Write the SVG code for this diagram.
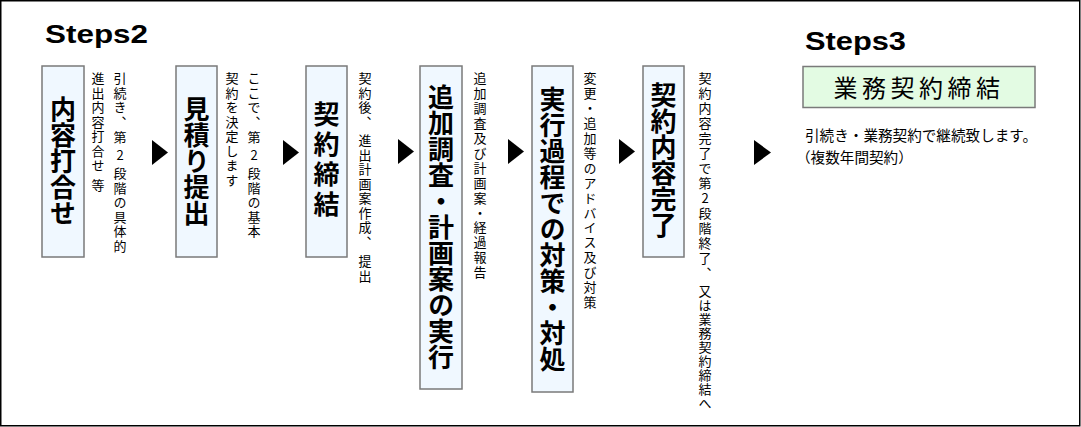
<svg xmlns="http://www.w3.org/2000/svg" width="1081" height="427" viewBox="0 0 1081 427">
<style>
.box{fill:#f0f8ff;stroke:#7a7a7a;stroke-width:1.5}
.gbox{fill:#e3fbe3;stroke:#7a7a7a;stroke-width:1.5}
.big{font-family:"Noto Sans CJK JP",sans-serif;font-size:26px;font-weight:bold;fill:#000;writing-mode:vertical-rl;text-orientation:upright}
.side{font-family:"Noto Sans CJK JP",sans-serif;font-size:13px;fill:#000;writing-mode:vertical-rl;text-orientation:upright;letter-spacing:1.5px}
.wide{letter-spacing:1.9px}
.step{font-family:"Liberation Sans",Arial,sans-serif;font-weight:bold;font-size:25px;fill:#000}
.desc{font-family:"Noto Sans CJK JP",sans-serif;font-size:14.6px;fill:#000}
.arr{fill:#000}
</style>
<rect x="0.75" y="0.75" width="1079" height="425" fill="#fff" stroke="#000" stroke-width="1.5"/>
<text class="step" x="45" y="43" textLength="103" lengthAdjust="spacingAndGlyphs">Steps2</text>
<text class="step" x="805" y="50" textLength="101" lengthAdjust="spacingAndGlyphs">Steps3</text>

<g id="n1">
<rect class="box" x="42" y="66" width="42" height="191"/>
<text class="big" x="63" y="161.5" text-anchor="middle">内容打合せ</text>
<text class="side" x="120" y="72">引続き、</text>
<text class="side" x="120" y="131">第</text>
<text class="side" x="120" y="149">2</text>
<text class="side" x="120" y="167">段階の具体的</text>
<text class="side" x="98" y="72">進出内容打合せ</text>
<text class="side" x="98" y="179">等</text>
</g>
<g id="n2">
<rect class="box" x="176" y="66" width="41" height="191"/>
<text class="big" x="196.5" y="161.5" text-anchor="middle">見積り提出</text>
<text class="side" x="254" y="72">ここで、</text>
<text class="side" x="254" y="131">第</text>
<text class="side" x="254" y="149">2</text>
<text class="side" x="254" y="167">段階の基本</text>
<text class="side" x="232" y="72">契約を決定します</text>
</g>
<g id="n3">
<rect class="box" x="306" y="66" width="41" height="191"/>
<text class="big" x="326.5" y="161.5" text-anchor="middle" style="letter-spacing:4px">契約締結</text>
<text class="side" x="365" y="72">契約後、</text>
<text class="side" x="365" y="134">進出計画案作成、</text>
<text class="side" x="365" y="255">提出</text>
</g>
<g id="n4">
<rect class="box" x="420" y="66" width="42" height="323"/>
<text class="big" x="441" y="227.5" text-anchor="middle">追加調査・計画案の実行</text>
<text class="side wide" x="480" y="72">追加調査及び計画案・経過報告</text>
</g>
<g id="n5">
<rect class="box" x="532" y="66" width="41" height="326"/>
<text class="big" x="552.5" y="229" text-anchor="middle">実行過程での対策・対処</text>
<text class="side wide" x="590" y="72">変更・追加等のアドバイス及び対策</text>
</g>
<g id="n6">
<rect class="box" x="643" y="66" width="41" height="191"/>
<text class="big" x="663.5" y="160" text-anchor="middle">契約内容完了</text>
<text class="side" x="705" y="72" style="letter-spacing:2px">契約内容完了で第2段階終了、</text>
<text class="side" x="705" y="285" style="letter-spacing:1px">又は業務契約締結へ</text>
</g>
<g id="n7">
<rect class="gbox" x="803" y="66.5" width="232" height="41"/>
<text x="919" y="97" text-anchor="middle" style="font-family:'Noto Sans CJK JP',sans-serif;font-size:24px;letter-spacing:4.5px;fill:#000">業務契約締結</text>
<text class="desc" x="805" y="141">引続き・業務契約で継続致します。</text>
<text class="desc" x="796" y="163">（複数年間契約）</text>
</g>
<g id="connectors">
<polygon class="arr" points="152,140 152,165 168,152.5"/>
<polygon class="arr" points="283,140 283,165 299,152.5"/>
<polygon class="arr" points="398,139 398,164 414,151.5"/>
<polygon class="arr" points="508,139 508,164 524,151.5"/>
<polygon class="arr" points="619,139 619,164 635,151.5"/>
<polygon class="arr" points="754,140 754,165 771,152.5"/>
</g>
</svg>
